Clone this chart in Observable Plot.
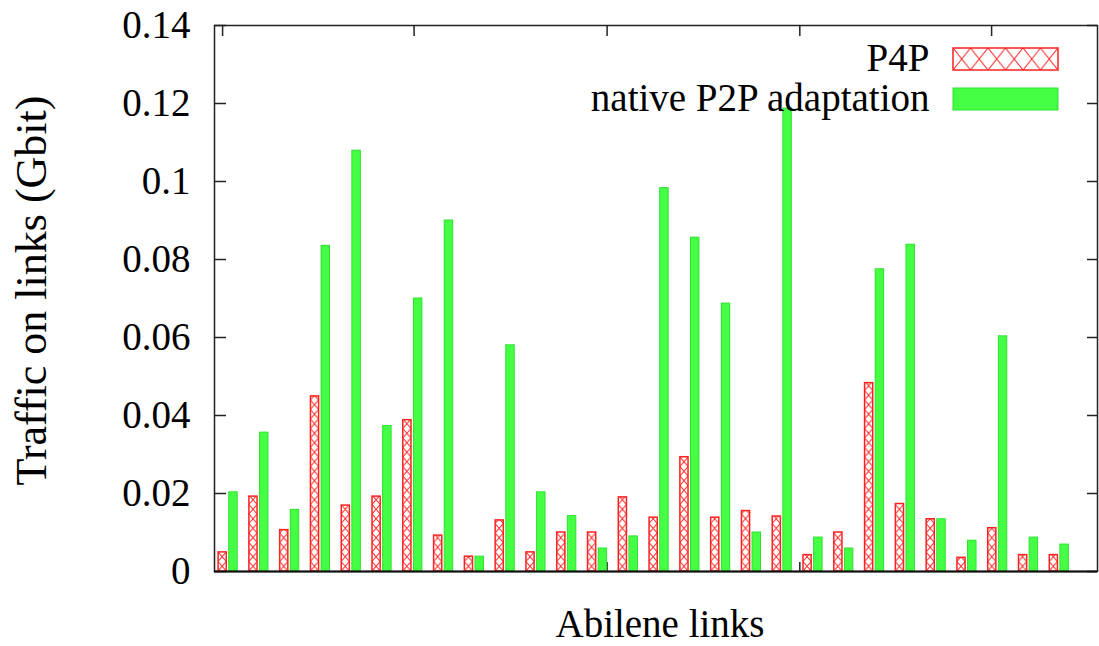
<!DOCTYPE html>
<html><head><meta charset="utf-8">
<script src="https://cdn.jsdelivr.net/npm/d3@7"></script>
<script src="https://cdn.jsdelivr.net/npm/@observablehq/plot@0.6"></script>
<style>
html,body{margin:0;padding:0;background:#fff;}
#chart{width:1099px;height:646px;overflow:hidden;}
</style></head><body><div id="chart"></div>
<script>
// ---- data ----
const linkIds = [1,2,3,4,5,6,7,8,9,10,11,12,13,14,15,16,17,18,19,20,21,22,23,24,25,26,27,28];
const seriesNames = ["P4P", "native P2P adaptation"];
const p4p = [0.0049, 0.0192, 0.0106, 0.0449, 0.0169, 0.0192, 0.0388, 0.0092, 0.0038, 0.0131,
             0.0049, 0.0100, 0.0100, 0.0190, 0.0138, 0.0293, 0.0138, 0.0155, 0.0141, 0.0042,
             0.0100, 0.0483, 0.0173, 0.0134, 0.0035, 0.0111, 0.0042, 0.0042];
const native = [0.0203, 0.0356, 0.0158, 0.0835, 0.1079, 0.0373, 0.0700, 0.0900, 0.0038, 0.0580,
                0.0203, 0.0142, 0.0059, 0.0090, 0.0983, 0.0856, 0.0687, 0.0100, 0.1187, 0.0087,
                0.0059, 0.0775, 0.0838, 0.0134, 0.0079, 0.0603, 0.0087, 0.0069];
const yTicks = [0, 0.02, 0.04, 0.06, 0.08, 0.1, 0.12, 0.14];
const xTicks = [-0.18, 6.04, 12.31, 18.57, 24.8]; // unlabeled x tics (link-index units)

const data = linkIds.map((id, i) => ({i, id, p4p: p4p[i], native: native[i]}));

// ---- layout ----
const W = 1099, H = 646, mL = 214, mR = 2, mT = 25, mB = 75;
const fw = W - mL - mR, fh = H - mT - mB;
const serif = '"Liberation Serif","Times New Roman",Times,serif';
const red = "#ff2020", green = "#45ff45";

const plot = Plot.plot({
  width: W, height: H,
  marginLeft: mL, marginRight: mR, marginTop: mT, marginBottom: mB,
  style: {fontFamily: serif, fontSize: "39px", background: "#fff", color: "#000"},
  x: {type: "linear", domain: [-0.443, 28.24], axis: null},
  y: {domain: [0, 0.14], axis: null, label: null},
  marks: [
    Plot.tickX(xTicks, {x: d => d, stroke: "#222", strokeWidth: 1.5, insetTop: fh - 9}),
    Plot.tickX(xTicks, {x: d => d, stroke: "#222", strokeWidth: 1.5, insetBottom: fh - 11}),
    Plot.tickY(yTicks, {y: d => d, stroke: "#222", strokeWidth: 1.5, insetRight: fw - 12}),
    Plot.tickY(yTicks, {y: d => d, stroke: "#222", strokeWidth: 1.5, insetLeft: fw - 10}),
    Plot.rect(data, {x1: d => d.i - 0.31, x2: d => d.i - 0.045, y1: () => 0, y2: "p4p",
      fill: "url(#p4pHatch)", stroke: red, strokeWidth: 1.5}),
    Plot.rect(data, {x1: d => d.i + 0.035, x2: d => d.i + 0.31, y1: () => 0, y2: "native",
      fill: green, stroke: "#30e030", strokeWidth: 1}),
    Plot.frame({stroke: "#222", strokeWidth: 1.5}),
    Plot.ruleY([0], {stroke: "#111", strokeWidth: 2}),
    Plot.axisY(yTicks, {tickSize: 0, tickPadding: 24, tickFormat: d => String(d), label: null, fontSize: 39}),
    Plot.text(["Traffic on links (Gbit)"], {frameAnchor: "left", textAnchor: "middle", lineAnchor: "middle", dx: -183, dy: -8, rotate: -90, fontSize: 44, fill: "#000"}),
    Plot.text(["Abilene links"], {frameAnchor: "bottom", lineAnchor: "middle", dx: 4, dy: 53, fontSize: 39, fill: "#000"}),
    Plot.text([seriesNames[0]], {frameAnchor: "top-right", textAnchor: "end", lineAnchor: "middle", dx: -168, dy: 33, fontSize: 39, fill: "#000"}),
    Plot.text([seriesNames[1]], {frameAnchor: "top-right", textAnchor: "end", lineAnchor: "middle", dx: -168, dy: 73, fontSize: 39, fill: "#000"})
  ]
});

document.getElementById("chart").appendChild(plot);

// ---- patterns & legend samples ----
const svg = d3.select(plot);
const xs = plot.scale("x");
const pitch = xs.apply(1) - xs.apply(0);
const bx0 = xs.apply(-0.31), bw = xs.apply(-0.045) - bx0;
const defs = svg.insert("defs", ":first-child");
const pat = defs.append("pattern").attr("id", "p4pHatch").attr("patternUnits", "userSpaceOnUse")
  .attr("x", bx0).attr("y", H - mB).attr("width", pitch).attr("height", 19);
pat.append("rect").attr("width", pitch).attr("height", 19).attr("fill", "#fff");
pat.append("path").attr("d", `M0,0L${bw},9.5L0,19M${bw},0L0,9.5L${bw},19`)
  .attr("stroke", red).attr("stroke-width", 1).attr("fill", "none");

const lx = W - mR - 144, lw = 105, lh = 22;
const lpat = defs.append("pattern").attr("id", "legHatch").attr("patternUnits", "userSpaceOnUse")
  .attr("x", lx).attr("y", mT + 23).attr("width", lw / 6).attr("height", lh);
lpat.append("rect").attr("width", lw / 6).attr("height", lh).attr("fill", "#fff");
lpat.append("path").attr("d", `M0,0L${lw / 6},${lh}M${lw / 6},0L0,${lh}`)
  .attr("stroke", red).attr("stroke-width", 1).attr("fill", "none");

const leg = svg.append("g").attr("class", "legend-samples");
leg.append("rect").attr("x", lx).attr("y", mT + 23).attr("width", lw).attr("height", lh)
  .attr("fill", "url(#legHatch)").attr("stroke", red).attr("stroke-width", 1.5);
leg.append("rect").attr("x", lx).attr("y", mT + 63).attr("width", lw).attr("height", lh)
  .attr("fill", green).attr("stroke", "#30e030").attr("stroke-width", 1);
</script>
</body></html>
